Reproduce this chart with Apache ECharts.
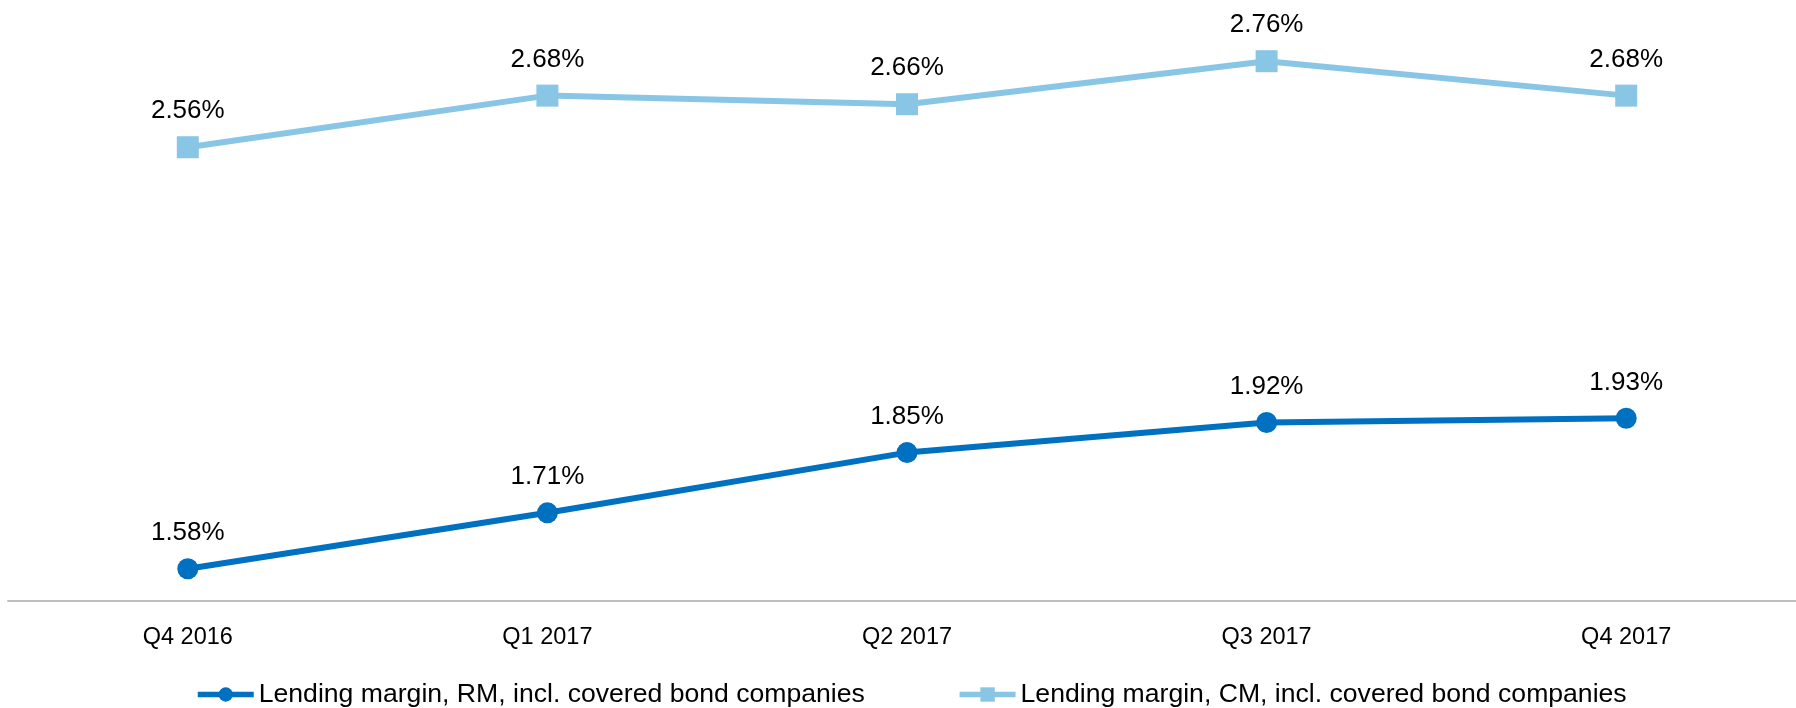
<!DOCTYPE html>
<html>
<head>
<meta charset="utf-8">
<script src="https://cdn.jsdelivr.net/npm/echarts@6/dist/echarts.min.js"></script>
<style>
  html, body { margin: 0; padding: 0; background: #fff; }
  #chart { width: 1796px; height: 708px; }
</style>
</head>
<body>
<div id="chart"></div>
<script>
// quarters on the x axis
const quarters = ['Q4 2016', 'Q1 2017', 'Q2 2017', 'Q3 2017', 'Q4 2017']
// lending margins, %
const rmMargin = [1.58, 1.71, 1.85, 1.92, 1.93]
const cmMargin = [2.56, 2.68, 2.66, 2.76, 2.68]
const rmName = 'Lending margin, RM, incl. covered bond companies'
const cmName = 'Lending margin, CM, incl. covered bond companies'

const rmColor = '#0070C0'
const cmColor = '#89C6E6'
const font = 'Liberation Sans'
const chart = echarts.init(document.getElementById('chart'))

function pct(p) {
  return p.value.toFixed(2) + '%'
}

chart.setOption({
  animation: false,
  textStyle: { fontFamily: font },
  grid: { left: 8, width: 1798, top: 1, bottom: 107, outerBoundsMode: 'none' },
  legend: {
    left: 190,
    top: 676,
    itemWidth: 56,
    itemHeight: 18,
    itemGap: 92,
    textStyle: { fontSize: 26.6, color: '#000', fontFamily: font },
    data: [
      { name: rmName, lineStyle: { width: 5.5, color: rmColor } },
      { name: cmName, lineStyle: { width: 5.5, color: cmColor } }
    ]
  },
  xAxis: {
    type: 'category',
    data: quarters,
    boundaryGap: true,
    axisTick: { show: false },
    axisLine: { lineStyle: { color: '#BFBFBF', width: 2 } },
    axisLabel: { color: '#000', fontSize: 23.5, margin: 25, fontFamily: font }
  },
  yAxis: {
    type: 'value',
    min: 1.505,
    max: 2.9,
    show: false,
    splitLine: { show: false }
  },
  series: [
    {
      name: rmName,
      type: 'line',
      data: rmMargin,
      symbol: 'circle',
      symbolSize: 21,
      lineStyle: { color: rmColor, width: 6 },
      itemStyle: { color: rmColor },
      label: {
        show: true, position: 'top', distance: 12,
        formatter: pct, color: '#000', fontSize: 26, fontFamily: font
      }
    },
    {
      name: cmName,
      type: 'line',
      data: cmMargin,
      symbol: 'rect',
      symbolSize: 22,
      lineStyle: { color: cmColor, width: 6 },
      itemStyle: { color: cmColor },
      label: {
        show: true, position: 'top', distance: 12,
        formatter: pct, color: '#000', fontSize: 26, fontFamily: font
      }
    }
  ]
})
</script>
</body>
</html>
